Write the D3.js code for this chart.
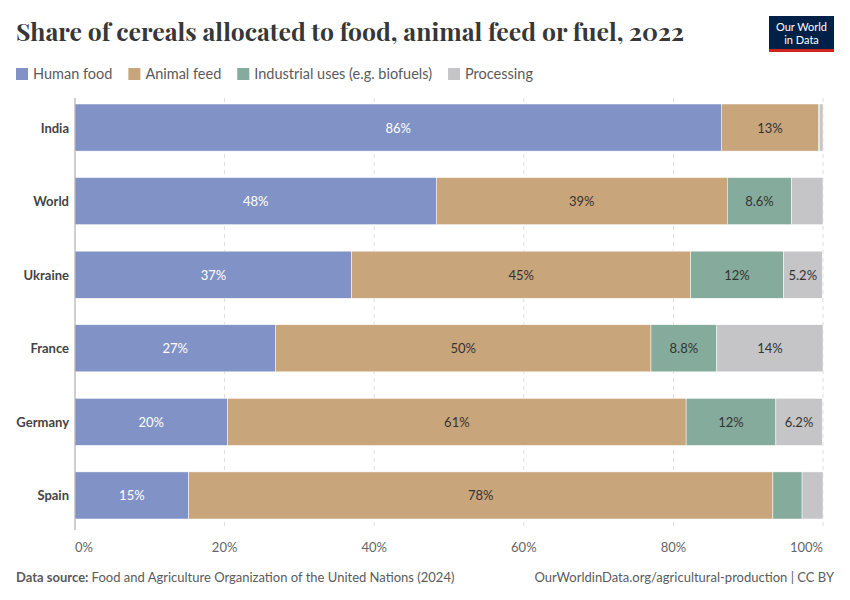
<!DOCTYPE html>
<html>
<head>
<meta charset="utf-8">
<script src="https://cdn.jsdelivr.net/npm/d3@7"></script>
<style>
  body { margin: 0; background: #fff; }
  text { font-family: Lato, "Noto Sans", sans-serif; }
</style>
</head>
<body>
<div id="chart"></div>
<script>
// data
const countries = ['India', 'World', 'Ukraine', 'France', 'Germany', 'Spain'];
const seriesNames = ['Human food', 'Animal feed', 'Industrial uses (e.g. biofuels)', 'Processing'];
const humanFood  = [86.4, 48.3, 37.0, 26.8, 20.4, 15.2];
const animalFeed = [13.0, 38.9, 45.3, 50.2, 61.3, 78.1];
const industrial = [0.1, 8.6, 12.4, 8.8, 12.0, 3.9];
const processing = [0.5, 4.2, 5.2, 14.2, 6.2, 2.8];
const tickValues = [0, 20, 40, 60, 80, 100];
const colors = ['#8193c6', '#c9a57b', '#85ab9c', '#c5c5c7'];

const width = 850, height = 600;
const margin = {top: 104, right: 27, bottom: 81, left: 75};

const svg = d3.select('#chart').append('svg')
  .attr('width', width).attr('height', height);

// title
svg.append('text')
  .attr('x', 16).attr('y', 41)
  .attr('textLength', 668).attr('lengthAdjust', 'spacingAndGlyphs')
  .style('font-family', '"Playfair Display", "DejaVu Serif", Georgia, serif')
  .style('font-size', '24px')
  .style('font-weight', 'bold')
  .style('fill', '#373737')
  .text('Share of cereals allocated to food, animal feed or fuel, 2022');

// logo
const logo = svg.append('g').attr('transform', 'translate(769,16)');
logo.append('rect').attr('width', 65).attr('height', 36).attr('fill', '#002147');
logo.append('rect').attr('y', 33).attr('width', 65).attr('height', 3).attr('fill', '#ce261e');
logo.append('text').attr('x', 32.5).attr('y', 15).attr('text-anchor', 'middle')
  .style('font-size', '11px').style('fill', '#fff').text('Our World');
logo.append('text').attr('x', 32.5).attr('y', 28).attr('text-anchor', 'middle')
  .style('font-size', '11px').style('fill', '#fff').text('in Data');

// legend
const legend = svg.append('g').attr('transform', 'translate(16,74)');
let lx = 0;
seriesNames.forEach((name, i) => {
  const g = legend.append('g').attr('transform', `translate(${lx},0)`);
  g.append('rect').attr('y', -6).attr('width', 12).attr('height', 12).attr('fill', colors[i]);
  const t = g.append('text').attr('x', 17).attr('y', 5)
    .style('font-size', '14.5px').style('fill', '#5b5b5b').text(name);
  lx += 17 + t.node().getComputedTextLength() + 16;
});

const chartW = width - margin.left - margin.right;
const g = svg.append('g').attr('transform', `translate(${margin.left},${margin.top})`);

const x = d3.scaleLinear().domain([0, 100]).range([0, chartW]);
const y = d3.scaleBand().domain(countries).range([0, 415]).paddingInner(0.36).paddingOuter(0);

// grid
g.selectAll('.grid').data(tickValues.slice(1)).enter().append('line')
  .attr('x1', d => x(d)).attr('x2', d => x(d))
  .attr('y1', -6).attr('y2', 426)
  .attr('stroke', '#dddddd').attr('stroke-dasharray', '4,4');

// stacked data
const rows = countries.map((c, i) => ({
  country: c, food: humanFood[i], feed: animalFeed[i], ind: industrial[i], proc: processing[i]
}));
const keys = ['food', 'feed', 'ind', 'proc'];
const stack = d3.stack().keys(keys)(rows);

const layer = g.selectAll('.layer').data(stack).enter().append('g')
  .attr('fill', (d, i) => colors[i]);

layer.selectAll('rect').data(d => d).enter().append('rect')
  .attr('x', d => x(d[0]))
  .attr('y', d => y(d.data.country))
  .attr('width', d => x(d[1]) - x(d[0]))
  .attr('height', y.bandwidth())
  .attr('stroke', '#fff').attr('stroke-width', 0.5);

// value labels
function fmt(v) {
  return v >= 9.95 ? Math.round(v) + '%' : v.toFixed(1) + '%';
}
stack.forEach((s, si) => {
  s.forEach(d => {
    const v = d[1] - d[0];
    const w = x(d[1]) - x(d[0]);
    if (w < 38) return;
    g.append('text')
      .attr('x', (x(d[0]) + x(d[1])) / 2)
      .attr('y', y(d.data.country) + y.bandwidth() / 2 + 5)
      .attr('text-anchor', 'middle')
      .style('font-size', '13px')
      .style('fill', si === 0 ? '#ffffff' : '#333333')
      .text(fmt(v));
  });
});

// zero line
g.append('line').attr('x1', 0).attr('x2', 0).attr('y1', -6).attr('y2', 426)
  .attr('stroke', '#a0a0a0');

// x ticks
const last = tickValues.length - 1;
g.selectAll('.tick-label').data(tickValues).enter().append('text')
  .attr('x', d => x(d)).attr('y', 448)
  .attr('text-anchor', (d, i) => i === last ? 'end' : (i === 0 ? 'start' : 'middle'))
  .style('font-size', '13px').style('fill', '#666')
  .text(d => d + '%');

// country labels
g.selectAll('.country').data(countries).enter().append('text')
  .attr('x', -6).attr('y', d => y(d) + y.bandwidth() / 2 + 5)
  .attr('text-anchor', 'end')
  .style('font-size', '13px').style('font-weight', 'bold').style('fill', '#444')
  .text(d => d);

// footer
const foot = svg.append('text').attr('x', 16).attr('y', 582)
  .style('font-size', '13px').style('fill', '#5b5b5b');
foot.append('tspan').style('font-weight', 'bold').text('Data source: ');
foot.append('tspan').text('Food and Agriculture Organization of the United Nations (2024)');
svg.append('text').attr('x', 834).attr('y', 582).attr('text-anchor', 'end')
  .style('font-size', '13px').style('fill', '#5b5b5b')
  .text('OurWorldinData.org/agricultural-production | CC BY');
</script>
</body>
</html>
